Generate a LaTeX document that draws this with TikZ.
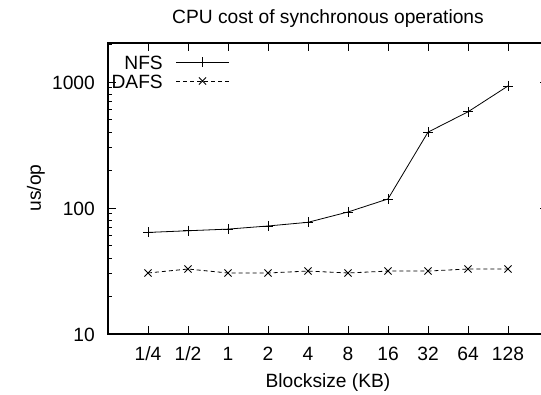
\documentclass[tikz,border=0pt]{standalone}
\usepackage{fontspec}
\setmainfont{Liberation Sans}
\begin{document}
\begin{tikzpicture}[x=1pt,y=-1pt,
  declare function={ly(\v)=334-126*(log10(\v)-1);},
  frame/.style={line width=1.5pt},
  tickmark/.style={line width=1pt},
  txt/.style={font=\fontsize{19.2}{23}\selectfont, inner sep=0pt},
  nfsline/.style={line width=0.8pt, mark=+, mark size=5pt, mark options={solid, line width=0.8pt}},
  dafsline/.style={line width=0.8pt, dash pattern=on 4pt off 3pt, mark=x, mark size=5pt, mark options={solid, line width=0.8pt}}]
\useasboundingbox (0,0) rectangle (541,394);
\begin{scope}
\clip (0,0) rectangle (541,394);
% plot frame
\draw[frame] (108,43) rectangle (548,334);
% y ticks (log scale)
\foreach \v in {10,100,1000} {
  \draw[tickmark] (108,{ly(\v)}) -- ++(8,0);
  \draw[tickmark] (548,{ly(\v)}) -- ++(-8,0);
}
\foreach \v in {20,30,40,50,60,70,80,90,200,300,400,500,600,700,800,900,2000} {
  \draw[tickmark] (108,{ly(\v)}) -- ++(4,0);
  \draw[tickmark] (548,{ly(\v)}) -- ++(-4,0);
}
% y tick labels
\node[txt, anchor=base east] (y10) at (95,{ly(10)+7}) {10};
\node[txt, anchor=base east] (y100) at (95,{ly(100)+7}) {100};
\node[txt, anchor=base east] (y1000) at (95,{ly(1000)+7}) {1000};
% x ticks and labels
\foreach \lbl [count=\i] in {1/4,1/2,1,2,4,8,16,32,64,128} {
  \pgfmathsetmacro{\xx}{108+40*\i}
  \draw[tickmark] (\xx,334) -- ++(0,-8);
  \draw[tickmark] (\xx,43) -- ++(0,8);
  \node[txt, anchor=base] (x\i) at (\xx,360) {\lbl};
}
% axis titles
\node[txt, anchor=base] (title) at (328,23) {CPU cost of synchronous operations};
\node[txt, anchor=base] (xlabel) at (328,387) {Blocksize (KB)};
\node[txt, rotate=90, anchor=center] (ylabel) at (36,188) {us/op};
% data points
\foreach \v [count=\i] in {64,66,68,72,77,93,118,400,580,930}
  \coordinate (n\i) at ({108+40*\i},{ly(\v)});
\foreach \v [count=\i] in {30.5,32.8,30.5,30.5,31.6,30.5,31.6,31.6,32.8,32.8}
  \coordinate (d\i) at ({108+40*\i},{ly(\v)});
\draw[nfsline] plot coordinates {(n1) (n2) (n3) (n4) (n5) (n6) (n7) (n8) (n9) (n10)};
\draw[dafsline] plot coordinates {(d1) (d2) (d3) (d4) (d5) (d6) (d7) (d8) (d9) (d10)};
% key
\node[txt, anchor=base east] (knfs) at (163,69) {NFS};
\node[txt, anchor=base east] (kdafs) at (163,88) {DAFS};
\coordinate (kn1) at (176,62); \coordinate (kn2) at (229,62);
\coordinate (kd1) at (176,81); \coordinate (kd2) at (229,81);
\draw[line width=0.8pt] (kn1) -- (kn2);
\draw[line width=0.8pt, dash pattern=on 4pt off 3pt] (kd1) -- (kd2);
\path[nfsline] plot coordinates {(202.5,62)};
\path[dafsline] plot coordinates {(202.5,81)};
\end{scope}
\end{tikzpicture}
\end{document}
